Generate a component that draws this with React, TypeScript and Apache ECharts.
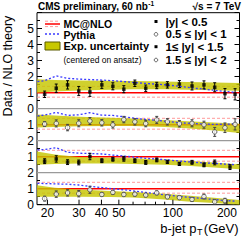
import React, { useEffect, useRef } from "react";
import * as echarts from "echarts";

const FONT = "'Liberation Sans', Arial, Helvetica, sans-serif";

// axis ranges
const xMin = 17.5;
const xMax = 235;
const yMin = 0;
const yMax = 12;

// tick labels
const yTickLabels = ["0", "1", "2", "1", "2", "1", "0", "1", "2", "3", "4", "5", ""];
const xTickValues = [20, 30, 40, 50, 60, 70, 80, 90, 100, 200];
const xTickLabels = ["20", "30", "40", "50", "", "", "", "", "100", "200"];

// rapidity bins (stacked with offsets)
const binNames = ["|y| < 0.5", "0.5 ≤ |y| < 1", "1≤ |y| < 1.5", "1.5 ≤ |y| < 2"];
const binOffsets = [6, 4, 2, 0];
const separators = [2, 4, 6];

// data pT bin centres
const pTBin1 = [19.3, 22.4, 25.9, 29.9, 34.5, 40.2, 46.3, 53.3, 61.4, 70.6, 81.3, 93.2, 108.7, 127.8, 149, 171, 195, 222];
const pTBin2 = [19.3, 22.4, 25.9, 29.9, 34.5, 40.2, 46.3, 53.3, 61.4, 70.6, 81.3, 93.2, 108.7, 127.8, 149, 171, 195, 222];
const pTBin3 = [19.3, 22.4, 25.9, 29.9, 34.5, 40.2, 46.3, 53.3, 61.4, 70.6, 81.3, 93.2, 108.7, 127.8, 149, 171, 208];
const pTBin4 = [19.3, 22.4, 25.9, 29.9, 34.5, 40.2, 46.3, 53.3, 61.4, 70.6, 81.3, 93.2, 108.7, 127.8, 149, 171, 195];

// Data / NLO ratios
const ratioBin1 = [0.9, 1.28, 1.49, 1.11, 1.05, 1.49, 1.4, 1.22, 1.59, 1.28, 1.45, 1.49, 1.54, 1.42, 1.49, 1.34, 0.94, 0.9];
const errBin1 = [0.2, 0.26, 0.26, 0.28, 0.28, 0.22, 0.22, 0.22, 0.2, 0.2, 0.2, 0.2, 0.22, 0.25, 0.25, 0.28, 0.32, 0.35];
const ratioBin2 = [1.04, 1.08, 0.82, 1.09, 1.23, 1.12, 0.99, 1.32, 1.18, 1.07, 1.3, 1.18, 1.06, 1.09, 1.0, 0.55, 0.81, 1.02];
const errBin2 = [0.15, 0.22, 0.2, 0.22, 0.22, 0.2, 0.2, 0.2, 0.2, 0.2, 0.22, 0.2, 0.2, 0.22, 0.22, 0.28, 0.3, 0.35];
const ratioBin3 = [0.72, 0.86, 0.66, 0.64, 1.01, 0.75, 0.84, 0.87, 0.75, 0.64, 0.8, 0.68, 0.55, 0.65, 0.49, 0.64, 0.35];
const errBin3 = [0.15, 0.2, 0.15, 0.15, 0.2, 0.12, 0.12, 0.15, 0.12, 0.12, 0.12, 0.1, 0.1, 0.12, 0.12, 0.15, 0.15];
const ratioBin4 = [0.38, 0.66, 0.74, 0.69, 0.93, 0.64, 0.77, 0.64, 0.66, 0.6, 0.74, 0.49, 0.44, 0.33, 0.51, 0.18, 0.25];
const errBin4 = [0.15, 0.2, 0.2, 0.2, 0.22, 0.12, 0.12, 0.12, 0.12, 0.1, 0.12, 0.1, 0.1, 0.12, 0.15, 0.15, 0.15];

// Pythia / NLO
const pythiaPT = [17.6, 19.3, 22.4, 25.9, 29.9, 34.5, 40.2, 46.3, 53.3, 61.4, 70.6, 81.3, 93.2, 108.7, 127.8, 149, 171, 195, 222];
const pythiaBin1 = [1.7, 1.75, 2.05, 1.9, 1.85, 1.82, 1.79, 1.75, 1.7, 1.63, 1.58, 1.53, 1.48, 1.4, 1.3, 1.22, 1.15, 1.08, 1.02];
const pythiaBin2 = [1.55, 1.6, 1.77, 1.58, 1.62, 1.75, 1.6, 1.58, 1.5, 1.4, 1.33, 1.27, 1.2, 1.12, 1.08, 1.04, 1.02, 1.03, 1.05];
const pythiaBin3 = [1.43, 1.45, 1.56, 1.28, 1.22, 1.2, 1.17, 1.1, 1.04, 0.97, 0.9, 0.85, 0.8, 0.73, 0.66, 0.61, 0.58, 0.54, 0.5];
const pythiaBin4 = [1.34, 1.32, 1.3, 1.28, 1.23, 1.15, 1.07, 1.0, 0.93, 0.85, 0.77, 0.68, 0.6, 0.52, 0.45, 0.38, 0.32, 0.26, 0.22];

// experimental uncertainty band (centred on ansatz)
const bandPT = [17.5, 22, 30, 45, 60, 90, 120, 170, 235];
const bandUpBin1 = [1.84, 1.8, 1.77, 1.75, 1.73, 1.7, 1.67, 1.63, 1.6];
const bandLowBin1 = [1.0, 1.08, 1.14, 1.19, 1.21, 1.21, 1.19, 1.16, 1.12];
const bandUpBin2 = [1.63, 1.57, 1.5, 1.44, 1.38, 1.3, 1.22, 1.14, 1.06];
const bandLowBin2 = [0.82, 0.86, 0.9, 0.92, 0.92, 0.86, 0.78, 0.64, 0.48];
const bandUpBin3 = [1.32, 1.14, 0.98, 0.93, 0.9, 0.82, 0.75, 0.64, 0.52];
const bandLowBin3 = [0.5, 0.54, 0.58, 0.57, 0.55, 0.5, 0.43, 0.33, 0.22];
const bandUpBin4 = [1.22, 1.06, 0.95, 0.86, 0.8, 0.68, 0.58, 0.44, 0.3];
const bandLowBin4 = [0.5, 0.5, 0.5, 0.48, 0.45, 0.33, 0.2, 0.1, 0.0];

// MC@NLO central and uncertainty lines
const mcnloCentral = 1;
const mcnloUp = 1.4;
const mcnloDown = 0.72;

const RED = "#ff0000";
const PINK = "#ff9a9a";
const BLUE = "#3a3aff";
const BAND = "rgba(198,198,0,0.82)";

export default function App() {
  const ref = useRef<HTMLDivElement>(null);

  useEffect(() => {
    if (!ref.current) return;
    const chart = echarts.init(ref.current, null, { renderer: "svg" });

    const pTs = [pTBin1, pTBin2, pTBin3, pTBin4];
    const ratios = [ratioBin1, ratioBin2, ratioBin3, ratioBin4];
    const errs = [errBin1, errBin2, errBin3, errBin4];
    const pythias = [pythiaBin1, pythiaBin2, pythiaBin3, pythiaBin4];
    const bandUps = [bandUpBin1, bandUpBin2, bandUpBin3, bandUpBin4];
    const bandLows = [bandLowBin1, bandLowBin2, bandLowBin3, bandLowBin4];
    const filled = [true, false, true, false];

    const series: any[] = [];

    separators.forEach((s) => {
      series.push({
        type: "line", silent: true, symbol: "none", z: 1,
        data: [[xMin, s], [xMax, s]],
        lineStyle: { color: "#9a9a9a", width: 1.2 },
      });
    });

    binOffsets.forEach((off) => {
      [mcnloUp, mcnloDown].forEach((v) => {
        series.push({
          type: "line", silent: true, symbol: "none", z: 2,
          data: [[xMin, off + v], [xMax, off + v]],
          lineStyle: { color: PINK, width: 1, type: [3, 2] },
        });
      });
      series.push({
        type: "line", silent: true, symbol: "none", z: 3,
        data: [[xMin, off + mcnloCentral], [xMax, off + mcnloCentral]],
        lineStyle: { color: RED, width: 1.5 },
      });
    });

    series.push({
      type: "custom", z: 4, silent: true,
      data: binOffsets.map((off) => [bandPT[0], off]),
      encode: { x: 0, y: 1 },
      renderItem: (params: any, api: any) => {
        const i = params.dataIndex;
        const off = binOffsets[i];
        const up = bandUps[i].map((v, k) => api.coord([bandPT[k], v + off]));
        const lo = bandLows[i].map((v, k) => api.coord([bandPT[k], v + off])).reverse();
        return { type: "polygon", shape: { points: up.concat(lo) }, style: { fill: BAND } };
      },
    });

    pythias.forEach((py, i) => {
      series.push({
        type: "line", silent: true, symbol: "none", z: 5,
        data: py.map((v, k) => [pythiaPT[k], v + binOffsets[i]]),
        lineStyle: { color: BLUE, width: 1.3, type: [2, 2] },
      });
    });

    ratios.forEach((r, i) => {
      const col = filled[i] ? "#000" : "#444";
      series.push({
        type: "custom", z: 6, silent: true,
        data: r.map((v, k) => [pTs[i][k], v + binOffsets[i], errs[i][k]]),
        encode: { x: 0, y: 1 },
        renderItem: (params: any, api: any) => {
          const x = api.value(0);
          const y = api.value(1);
          const e = api.value(2);
          const t = api.coord([x, y + e]);
          const b = api.coord([x, y - e]);
          const st = { stroke: col, lineWidth: 1 };
          return {
            type: "group",
            children: [
              { type: "line", shape: { x1: t[0], y1: t[1], x2: b[0], y2: b[1] }, style: st },
              { type: "line", shape: { x1: t[0] - 1.5, y1: t[1], x2: t[0] + 1.5, y2: t[1] }, style: st },
              { type: "line", shape: { x1: b[0] - 1.5, y1: b[1], x2: b[0] + 1.5, y2: b[1] }, style: st },
            ],
          };
        },
      });
      series.push({
        type: "scatter", z: 7, silent: true,
        name: binNames[i],
        symbol: filled[i] ? "rect" : "circle",
        symbolSize: filled[i] ? 3.5 : 4.5,
        data: r.map((v, k) => [pTs[i][k], v + binOffsets[i]]),
        itemStyle: filled[i]
          ? { color: "#000" }
          : { color: "#fff", borderColor: "#444", borderWidth: 1 },
      });
    });

    // x-axis ticks and labels on the log scale
    series.push({
      type: "custom", z: 8, silent: true,
      data: xTickValues.map((v) => [v, yMin]),
      encode: { x: 0, y: 1 },
      renderItem: (params: any, api: any) => {
        const p = api.coord([api.value(0), yMin]);
        const label = xTickLabels[params.dataIndex];
        const children: any[] = [
          { type: "line", shape: { x1: p[0], y1: p[1], x2: p[0], y2: p[1] - (label ? 5 : 3) }, style: { stroke: "#000", lineWidth: 1 } },
        ];
        if (label) {
          children.push({
            type: "text", x: p[0], y: p[1] + 8,
            style: {
              text: label, fill: "#000", fontSize: 12, fontFamily: FONT,
              align: "center", verticalAlign: "middle", textAlign: "center", textVerticalAlign: "middle",
            },
          });
        }
        return { type: "group", children };
      },
    });

    const txt = (x: number, y: number, text: string, size: number, bold: boolean, align = "left", extra: any = {}) => ({
      type: "text", x, y, z: 100, silent: true, ...extra,
      style: {
        text, fill: "#000", fontSize: size, fontWeight: bold ? "bold" : "normal", fontFamily: FONT,
        align, verticalAlign: "middle", textAlign: align, textVerticalAlign: "middle",
      },
    });

    const graphic: any[] = [
      txt(38, 6.5, "CMS preliminary, 60 nb", 10, true),
      txt(148.3, 3.5, "-1", 6.5, true),
      txt(241, 6.5, "√s = 7 TeV", 10, true, "right"),
      // y title
      txt(8, 66, "Data / NLO theory", 12.5, false, "center", { rotation: Math.PI / 2 }),
      // x title
      txt(196.5, 228, "b-jet p", 13, false, "right"),
      txt(197, 232, "T", 9, false),
      txt(238.5, 228, "(GeV)", 13, false, "right"),
      // legend left
      { type: "line", z: 100, shape: { x1: 45, y1: 21.2, x2: 60, y2: 21.2 }, style: { stroke: PINK, lineWidth: 1, lineDash: [3, 2] } },
      { type: "line", z: 100, shape: { x1: 45, y1: 26.6, x2: 60, y2: 26.6 }, style: { stroke: PINK, lineWidth: 1, lineDash: [3, 2] } },
      { type: "line", z: 100, shape: { x1: 45, y1: 24, x2: 60, y2: 24 }, style: { stroke: RED, lineWidth: 1.5 } },
      txt(63.5, 23.5, "MC@NLO", 10.5, true),
      { type: "line", z: 100, shape: { x1: 45, y1: 34, x2: 60, y2: 34 }, style: { stroke: BLUE, lineWidth: 1.3, lineDash: [2, 2] } },
      txt(63.5, 34.5, "Pythia", 10.5, true),
      { type: "rect", z: 100, shape: { x: 45, y: 42, width: 15, height: 8 }, style: { fill: "#c8c800", stroke: "#5a5a00", lineWidth: 1 } },
      txt(63.5, 46, "Exp. uncertainty", 11, true),
      txt(63.5, 60, "(centered on ansatz)", 8.5, false),
      // legend right
      { type: "rect", z: 100, shape: { x: 154.5, y: 20, width: 3, height: 3 }, style: { fill: "#000" } },
      txt(165.5, 21.7, binNames[0], 11.5, true),
      { type: "circle", z: 100, shape: { cx: 156, cy: 34.3, r: 1.8 }, style: { fill: "#fff", stroke: "#666", lineWidth: 1 } },
      txt(165.5, 34.3, binNames[1], 11.5, true),
      { type: "rect", z: 100, shape: { x: 154.5, y: 45.2, width: 3, height: 3 }, style: { fill: "#000" } },
      txt(165.5, 46.7, binNames[2], 11.5, true),
      { type: "circle", z: 100, shape: { cx: 156, cy: 60, r: 1.8 }, style: { fill: "#fff", stroke: "#666", lineWidth: 1 } },
      txt(165.5, 60, binNames[3], 11.5, true),
    ];

    const yAxisBase = {
      type: "value", min: yMin, max: yMax, interval: 1,
      axisLine: { show: false },
      splitLine: { show: false },
      axisTick: { show: true, inside: true, length: 5, lineStyle: { color: "#000", width: 1 } },
      minorTick: { show: true, splitNumber: 2, length: 3, lineStyle: { color: "#000", width: 1 } },
    };

    chart.setOption({
      animation: false,
      grid: { left: 37, right: 12.5, top: 12.7, bottom: 37.3, show: true, borderColor: "#000", borderWidth: 1, backgroundColor: "transparent" },
      xAxis: {
        type: "log", logBase: 10, min: xMin, max: xMax,
        axisLine: { show: false }, axisTick: { show: false }, axisLabel: { show: false },
        splitLine: { show: false }, minorTick: { show: false }, minorSplitLine: { show: false },
      },
      yAxis: [
        {
          ...yAxisBase,
          position: "left",
          axisLabel: {
            formatter: (v: number) => yTickLabels[Math.round(v)] ?? "",
            fontSize: 12, color: "#000", margin: 3, fontFamily: FONT,
          },
        },
        { ...yAxisBase, position: "right", axisLabel: { show: false } },
      ],
      series,
      graphic,
    });

    return () => chart.dispose();
  }, []);

  return <div ref={ref} style={{ width: 252, height: 242, position: "absolute", left: 0, top: 0 }} />;
}
